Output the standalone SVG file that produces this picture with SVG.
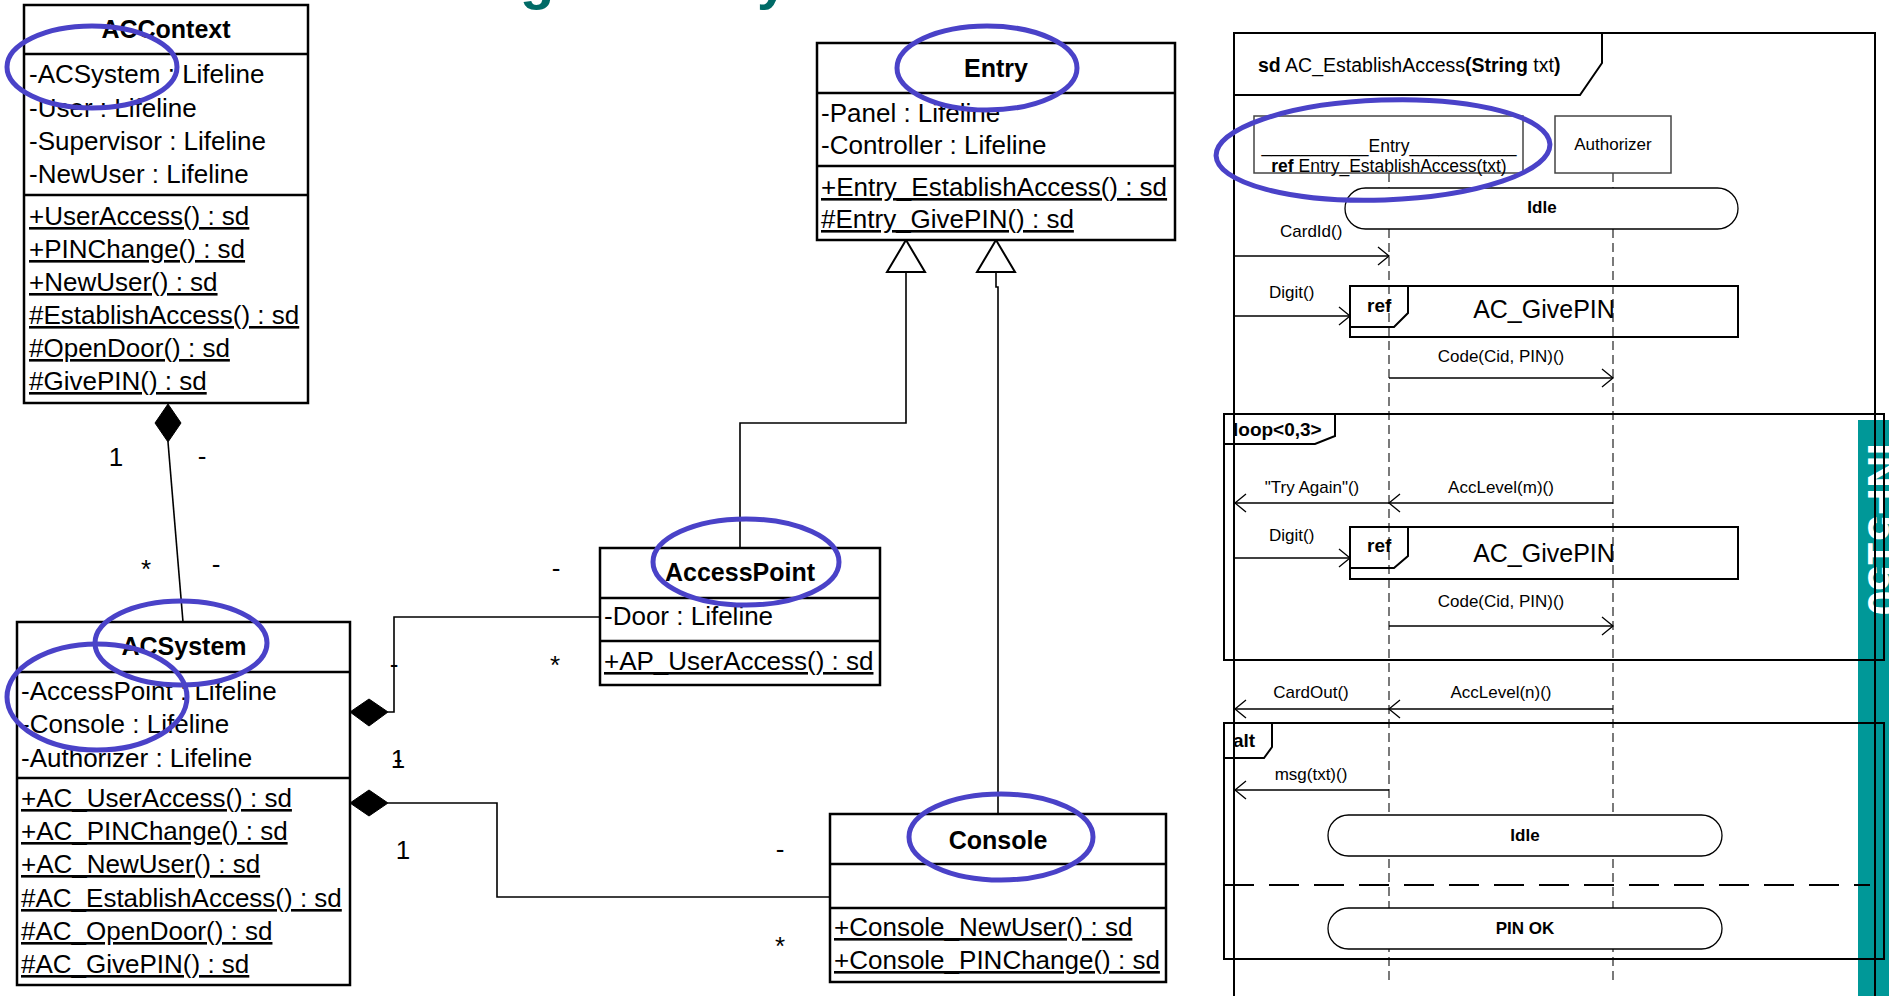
<svg xmlns="http://www.w3.org/2000/svg" width="1889" height="996" viewBox="0 0 1889 996">
  <style>
    text { font-family: "Liberation Sans", Arial, sans-serif; fill: #000; }
    .box { fill: #fff; stroke: #000; stroke-width: 2.5; }
    .sep { stroke: #000; stroke-width: 2.5; }
    .cname { font-size: 25px; font-weight: bold; text-anchor: middle; }
    .attr { font-size: 26px; }
    .op { font-size: 26px; text-decoration: underline; }
    .lbl { font-size: 26px; text-anchor: middle; }
    .conn { fill: none; stroke: #000; stroke-width: 1.6; }
    .diamond { fill: #000; stroke: #000; stroke-width: 1; }
    .gen { fill: #fff; stroke: #000; stroke-width: 2; }
    .frame { fill: none; stroke: #000; stroke-width: 2; }
    .head { fill: #fff; stroke: #444; stroke-width: 1.5; }
    .life { fill: none; stroke: #333; stroke-width: 1.3; stroke-dasharray: 9 5; }
    .msg { fill: none; stroke: #000; stroke-width: 1.3; marker-end: url(#open); }
    .state { fill: #fff; stroke: #000; stroke-width: 1.3; }
    .ref { fill: none; stroke: #000; stroke-width: 2; }
    .s17 { font-size: 17px; }
    .mid { text-anchor: middle; }
    .b { font-weight: bold; }
    .hl { fill: none; stroke: #4a42c8; stroke-width: 5; }
  </style>
  <defs>
    <marker id="open" markerUnits="userSpaceOnUse" markerWidth="16" markerHeight="22" refX="12" refY="10" orient="auto" overflow="visible">
      <path d="M1,1 L12,10 L1,19" fill="none" stroke="#000" stroke-width="1.3"/>
    </marker>
  </defs>

  <!-- heading fragments and side band -->
  <g id="heading">
    <text x="520" y="-2" style="font-size:56px;font-weight:bold;fill:#006a66">g</text>
    <text x="757" y="-2" style="font-size:56px;font-weight:bold;fill:#006a66">y</text>
  </g>
  <g id="band">
    <rect x="1858" y="420" width="31" height="576" fill="#009898"/>
    <text transform="translate(1868,443) rotate(90)" style="font-size:45px;font-weight:bold;fill:#fff">INF5150</text>
  </g>

  <!-- class diagram connectors -->
  <g id="connectors">
    <path class="conn" d="M168,442 L183,622"/>
    <polygon class="diamond" points="168,404 181,423 168,442 155,423"/>
    <path class="conn" d="M388,712 H394 V617 H600"/>
    <polygon class="diamond" points="350,712 369,699 388,712 369,726"/>
    <path class="conn" d="M388,803 H497 V897 H830"/>
    <polygon class="diamond" points="350,803 369,790 388,803 369,816"/>
    <path class="conn" d="M740,548 V423 H906 V272"/>
    <polygon class="gen" points="906,240 925,272 887,272"/>
    <path class="conn" d="M998,814 V287 H996 V272"/>
    <polygon class="gen" points="996,240 1015,272 977,272"/>
    <!-- multiplicities and role names -->
    <text class="lbl" x="116" y="466">1</text>
    <text class="lbl" x="202" y="465">-</text>
    <text class="lbl" x="146" y="578">*</text>
    <text class="lbl" x="216" y="573">-</text>
    <text class="lbl" x="556" y="577">-</text>
    <text class="lbl" x="555" y="674">*</text>
    <text class="lbl" x="394" y="673">-</text>
    <text class="lbl" x="398" y="768">1</text>
    <text class="lbl" x="398" y="768">-</text>
    <text class="lbl" x="403" y="859">1</text>
    <text class="lbl" x="780" y="858">-</text>
    <text class="lbl" x="780" y="955">*</text>
  </g>

  <g id="ACContext">
    <rect class="box" x="24" y="5" width="284" height="398"/>
    <line class="sep" x1="24" y1="54" x2="308" y2="54"/>
    <line class="sep" x1="24" y1="195" x2="308" y2="195"/>
    <text class="cname" x="166" y="38">ACContext</text>
    <text class="attr" x="29" y="83">-ACSystem : Lifeline</text>
    <text class="attr" x="29" y="117">-User : Lifeline</text>
    <text class="attr" x="29" y="150">-Supervisor : Lifeline</text>
    <text class="attr" x="29" y="183">-NewUser : Lifeline</text>
    <text class="op" x="29" y="225">+UserAccess() : sd</text>
    <text class="op" x="29" y="258">+PINChange() : sd</text>
    <text class="op" x="29" y="291">+NewUser() : sd</text>
    <text class="op" x="29" y="324">#EstablishAccess() : sd</text>
    <text class="op" x="29" y="357">#OpenDoor() : sd</text>
    <text class="op" x="29" y="390">#GivePIN() : sd</text>
  </g>

  <g id="ACSystem">
    <rect class="box" x="17" y="622" width="333" height="363"/>
    <line class="sep" x1="17" y1="672" x2="350" y2="672"/>
    <line class="sep" x1="17" y1="778" x2="350" y2="778"/>
    <text class="cname" x="184" y="655">ACSystem</text>
    <text class="attr" x="21" y="700">-AccessPoint : Lifeline</text>
    <text class="attr" x="21" y="733">-Console : Lifeline</text>
    <text class="attr" x="21" y="767">-Authorizer : Lifeline</text>
    <text class="op" x="21" y="807">+AC_UserAccess() : sd</text>
    <text class="op" x="21" y="840">+AC_PINChange() : sd</text>
    <text class="op" x="21" y="873">+AC_NewUser() : sd</text>
    <text class="op" x="21" y="907">#AC_EstablishAccess() : sd</text>
    <text class="op" x="21" y="940">#AC_OpenDoor() : sd</text>
    <text class="op" x="21" y="973">#AC_GivePIN() : sd</text>
  </g>

  <g id="AccessPoint">
    <rect class="box" x="600" y="548" width="280" height="137"/>
    <line class="sep" x1="600" y1="598" x2="880" y2="598"/>
    <line class="sep" x1="600" y1="641" x2="880" y2="641"/>
    <text class="cname" x="740" y="581">AccessPoint</text>
    <text class="attr" x="604" y="625">-Door : Lifeline</text>
    <text class="op" x="604" y="670">+AP_UserAccess() : sd</text>
  </g>

  <g id="Entry">
    <rect class="box" x="817" y="43" width="358" height="197"/>
    <line class="sep" x1="817" y1="93" x2="1175" y2="93"/>
    <line class="sep" x1="817" y1="166" x2="1175" y2="166"/>
    <text class="cname" x="996" y="77">Entry</text>
    <text class="attr" x="821" y="122">-Panel : Lifeline</text>
    <text class="attr" x="821" y="154">-Controller : Lifeline</text>
    <text class="op" x="821" y="196">+Entry_EstablishAccess() : sd</text>
    <text class="op" x="821" y="228">#Entry_GivePIN() : sd</text>
  </g>

  <g id="Console">
    <rect class="box" x="830" y="814" width="336" height="168"/>
    <line class="sep" x1="830" y1="864" x2="1166" y2="864"/>
    <line class="sep" x1="830" y1="908" x2="1166" y2="908"/>
    <text class="cname" x="998" y="849">Console</text>
    <text class="op" x="834" y="936">+Console_NewUser() : sd</text>
    <text class="op" x="834" y="969">+Console_PINChange() : sd</text>
  </g>

  <!-- sequence diagram AC_EstablishAccess -->
  <g id="sd-frame">
    <path class="frame" d="M1234,996 V33 H1875 V996"/>
    <path class="frame" d="M1234,95 H1580 L1602,63 V33"/>
    <text x="1258" y="72" style="font-size:19.5px"><tspan class="b">sd</tspan> AC_EstablishAccess<tspan class="b">(String</tspan> txt<tspan class="b">)</tspan></text>
  </g>

  <g id="lifelines">
    <path class="life" d="M1389,173 V980"/>
    <path class="life" d="M1613,173 V980"/>
  </g>

  <g id="lifeline-Entry">
    <rect class="head" x="1254" y="116" width="269" height="57"/>
    <text class="mid" x="1389" y="152" style="font-size:17.5px">___________Entry___________</text>
    <text class="mid" x="1389" y="172" style="font-size:17.5px"><tspan class="b">ref</tspan> Entry_EstablishAccess(txt)</text>
  </g>

  <g id="lifeline-Authorizer">
    <rect class="head" x="1555" y="116" width="116" height="57"/>
    <text class="mid" x="1613" y="150" style="font-size:17px">Authorizer</text>
  </g>

  <g id="state-Idle-1">
    <rect class="state" x="1345" y="188" width="393" height="41" rx="20.5"/>
    <text class="s17 mid b" x="1542" y="213">Idle</text>
  </g>

  <g id="ref-GivePIN-1">
    <rect class="ref" x="1350" y="286" width="388" height="51"/>
    <path class="ref" d="M1408,286 V313 L1394,327 H1350"/>
    <text class="b" x="1367" y="312" style="font-size:19px">ref</text>
    <text class="mid" x="1544" y="318" style="font-size:25px">AC_GivePIN</text>
  </g>

  <g id="loop">
    <rect class="frame" x="1224" y="414" width="660" height="246"/>
    <path class="frame" d="M1335,414 V436 L1315,444 H1224"/>
    <text class="b" x="1233" y="436" style="font-size:19px">loop&lt;0,3&gt;</text>
  </g>

  <g id="ref-GivePIN-2">
    <rect class="ref" x="1350" y="527" width="388" height="52"/>
    <path class="ref" d="M1408,527 V556 L1394,568 H1350"/>
    <text class="b" x="1367" y="552" style="font-size:19px">ref</text>
    <text class="mid" x="1544" y="562" style="font-size:25px">AC_GivePIN</text>
  </g>

  <g id="alt">
    <rect class="frame" x="1224" y="723" width="660" height="236"/>
    <path class="frame" d="M1272,723 V747 L1264,758 H1224"/>
    <text class="b" x="1233" y="747" style="font-size:19px">alt</text>
    <path d="M1224,885 H1870" fill="none" stroke="#000" stroke-width="2" stroke-dasharray="30 15"/>
  </g>

  <g id="state-Idle-2">
    <rect class="state" x="1328" y="815" width="394" height="41" rx="20.5"/>
    <text class="s17 mid b" x="1525" y="841">Idle</text>
  </g>

  <g id="state-PIN-OK">
    <rect class="state" x="1328" y="908" width="394" height="41" rx="20.5"/>
    <text class="s17 mid b" x="1525" y="934">PIN OK</text>
  </g>

  <g id="messages">
    <path class="msg" d="M1234,256 H1389"/>
    <text class="s17" x="1280" y="237">CardId()</text>
    <path class="msg" d="M1234,316 H1350"/>
    <text class="s17" x="1269" y="298">Digit()</text>
    <path class="msg" d="M1389,378 H1613"/>
    <text class="s17 mid" x="1501" y="362">Code(Cid, PIN)()</text>
    <path class="msg" d="M1389,503 H1235"/>
    <text class="s17 mid" x="1312" y="493">"Try Again"()</text>
    <path class="msg" d="M1613,503 H1389"/>
    <text class="s17 mid" x="1501" y="493">AccLevel(m)()</text>
    <path class="msg" d="M1234,558 H1350"/>
    <text class="s17" x="1269" y="541">Digit()</text>
    <path class="msg" d="M1389,626 H1613"/>
    <text class="s17 mid" x="1501" y="607">Code(Cid, PIN)()</text>
    <path class="msg" d="M1389,709 H1235"/>
    <text class="s17 mid" x="1311" y="698">CardOut()</text>
    <path class="msg" d="M1613,709 H1389"/>
    <text class="s17 mid" x="1501" y="698">AccLevel(n)()</text>
    <path class="msg" d="M1389,790 H1235"/>
    <text class="s17 mid" x="1311" y="780">msg(txt)()</text>
  </g>

  <!-- highlight rings -->
  <g id="highlights">
    <ellipse class="hl" cx="92" cy="67" rx="85" ry="41"/>
    <ellipse class="hl" cx="987" cy="68" rx="90" ry="42"/>
    <ellipse class="hl" cx="1383" cy="150" rx="167" ry="50" transform="rotate(-2 1383 150)"/>
    <ellipse class="hl" cx="746" cy="562" rx="93" ry="43"/>
    <ellipse class="hl" cx="1001" cy="837" rx="92" ry="43"/>
    <ellipse class="hl" cx="181" cy="643" rx="86" ry="42"/>
    <ellipse class="hl" cx="97" cy="697" rx="90" ry="53"/>
  </g>
</svg>
